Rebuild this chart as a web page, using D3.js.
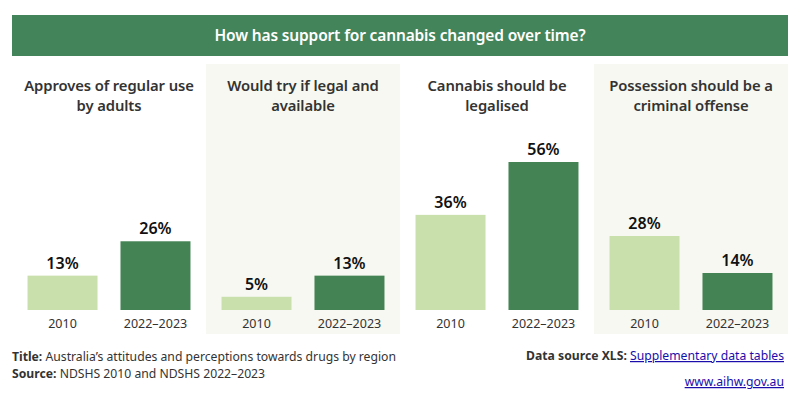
<!DOCTYPE html>
<html>
<head>
<meta charset="utf-8">
<script src="https://cdn.jsdelivr.net/npm/d3@7"></script>
<style>
  body { margin: 0; background: #fff; }
  svg { display: block; font-family: "Noto Sans", sans-serif; }
</style>
</head>
<body>
<svg width="810" height="394"></svg>
<script>
// chart values
var measures = [
  ["Approves of regular use", "by adults"],
  ["Would try if legal and", "available"],
  ["Cannabis should be", "legalised"],
  ["Possession should be a", "criminal offense"]
];
var years = ["2010", "2022\u20132023"];
var values2010 = [13, 5, 36, 28];
var values2022 = [26, 13, 56, 14];

var width = 810, height = 394;
var margin = ({left: 12, right: 22});
var baseY = 310, topY = 162;
var colors = {banner: "#44845a", light: "#c9e0ac", dark: "#448454", shade: "#f7f8f1"};

var data = measures.map((m, i) => ({
  measure: i,
  title: m,
  vals: [{year: years[0], value: values2010[i]}, {year: years[1], value: values2022[i]}]
}));

var x = d3.scaleBand()
    .domain(d3.range(measures.length))
    .range([margin.left, width - margin.right]);
var xi = d3.scaleBand()
    .domain(years)
    .range([0, x.bandwidth()])
    .paddingInner(0.247)
    .paddingOuter(0.167);
var y = d3.scaleLinear()
    .domain([0, 56])
    .range([baseY, topY]);

(function chart () {
  var svg = d3.select("svg");

  // banner
  svg.append("rect")
      .attr("x", margin.left).attr("y", 15)
      .attr("width", width - margin.left - margin.right).attr("height", 41)
      .attr("fill", colors.banner);
  svg.append("text")
      .attr("x", (margin.left + width - margin.right) / 2).attr("y", 41)
      .attr("text-anchor", "middle")
      .attr("fill", "#fff")
      .attr("font-size", 15.5)
      .attr("font-weight", 600)
      .attr("letter-spacing", -0.15)
      .text("How has support for cannabis changed over time?");

  var panel = svg.selectAll("g.panel")
    .data(data)
    .join("g")
      .attr("class", "panel")
      .attr("transform", d => `translate(${x(d.measure)},0)`);

  panel.filter(d => d.measure % 2 === 1).append("rect")
      .attr("y", 64).attr("width", x.bandwidth()).attr("height", 270)
      .attr("fill", colors.shade);

  panel.append("text")
      .attr("text-anchor", "middle")
      .attr("fill", "#333")
      .attr("font-size", 14.8)
      .attr("font-weight", 600)
      .attr("letter-spacing", -0.1)
    .selectAll("tspan")
    .data(d => d.title)
    .join("tspan")
      .attr("x", x.bandwidth() / 2)
      .attr("y", (d, i) => 91 + i * 20)
      .text(d => d);

  var bar = panel.selectAll("g.bar")
    .data(d => d.vals)
    .join("g")
      .attr("class", "bar");

  bar.append("rect")
      .attr("x", d => xi(d.year))
      .attr("y", d => y(d.value))
      .attr("width", xi.bandwidth())
      .attr("height", d => baseY - y(d.value))
      .attr("fill", (d, i) => i === 0 ? colors.light : colors.dark);

  bar.append("text")
      .attr("x", d => xi(d.year) + xi.bandwidth() / 2)
      .attr("y", d => y(d.value) - 7)
      .attr("text-anchor", "middle")
      .attr("font-size", 16)
      .attr("font-weight", 600)
      .attr("fill", "#111")
      .text(d => d.value + "%");

  bar.append("text")
      .attr("x", d => xi(d.year) + xi.bandwidth() / 2)
      .attr("y", 328)
      .attr("text-anchor", "middle")
      .attr("font-size", 12.5)
      .attr("fill", "#333")
      .text(d => d.year);

  // footer
  var foot = svg.append("g").attr("font-size", 12.2).attr("fill", "#333");
  var t1 = foot.append("text").attr("x", 12).attr("y", 361);
  t1.append("tspan").attr("font-weight", 700).text("Title: ");
  t1.append("tspan").text("Australia\u2019s attitudes and perceptions towards drugs by region");
  var t2 = foot.append("text").attr("x", 12).attr("y", 378);
  t2.append("tspan").attr("font-weight", 700).text("Source: ");
  t2.append("tspan").text("NDSHS 2010 and NDSHS 2022\u20132023");

  var t3 = foot.append("text").attr("x", 784).attr("y", 360).attr("text-anchor", "end");
  t3.append("tspan").attr("font-weight", 700).text("Data source XLS: ");
  t3.append("tspan").attr("fill", "#1a0dab").attr("text-decoration", "underline").text("Supplementary data tables");
  foot.append("text").attr("x", 784).attr("y", 386).attr("text-anchor", "end")
      .attr("fill", "#1a0dab").attr("text-decoration", "underline")
      .text("www.aihw.gov.au");

  return svg.node();
})();
</script>
</body>
</html>
